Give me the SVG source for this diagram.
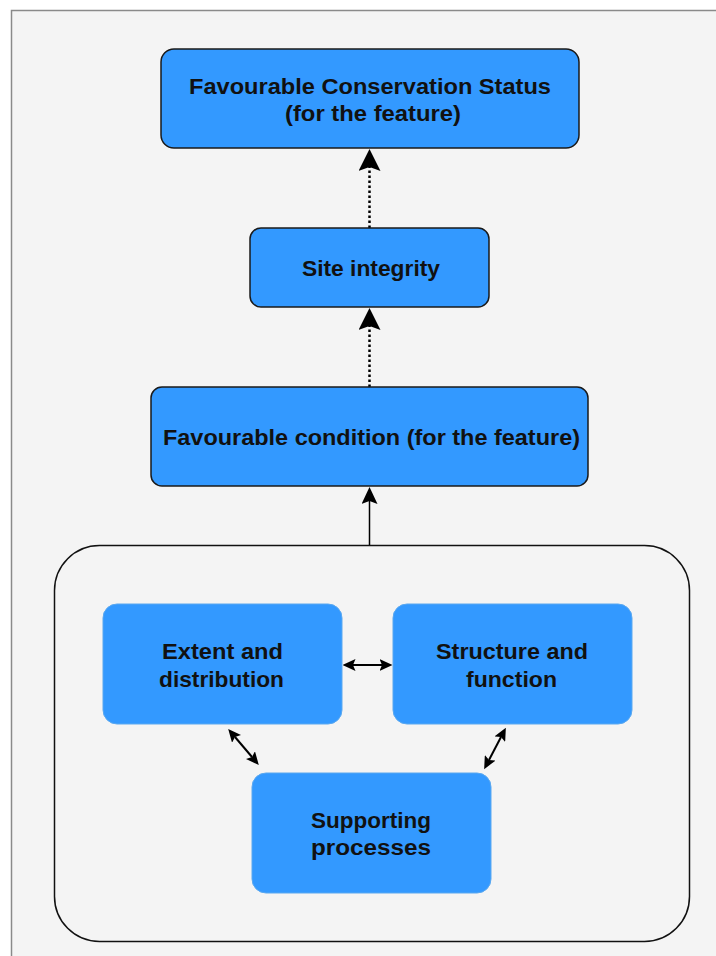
<svg xmlns="http://www.w3.org/2000/svg" width="716" height="956" viewBox="0 0 716 956">
<defs>
<style>
.node{fill:#3399ff;stroke:#1a1a1a;stroke-width:1.5}
.soft{fill:#3399ff;stroke:#5aa8f0;stroke-width:1}
.t{font-family:"Liberation Sans",Arial,sans-serif;font-weight:bold;font-size:22px;fill:#111;text-anchor:middle}
.dot{stroke:#000;stroke-width:2.5;stroke-dasharray:2.5 2.5;fill:none}
.sol{stroke:#000;stroke-width:1.5;fill:none}
.sm{stroke:#000;stroke-width:2;fill:none}
</style>
<marker id="big" viewBox="0 0 22 22" refX="4" refY="11" markerWidth="22" markerHeight="22" markerUnits="userSpaceOnUse" orient="auto">
<path d="M0,0 L22,11 L0,22 L4,11 z" fill="#000"/>
</marker>
<marker id="mid" viewBox="0 0 17 16" refX="3" refY="8" markerWidth="17" markerHeight="16" markerUnits="userSpaceOnUse" orient="auto">
<path d="M0,0 L17,8 L0,16 L3,8 z" fill="#000"/>
</marker>
<marker id="small" viewBox="0 0 13 12" refX="2.5" refY="6" markerWidth="13" markerHeight="12" markerUnits="userSpaceOnUse" orient="auto-start-reverse">
<path d="M0,0 L13,6 L0,12 L2.5,6 z" fill="#000"/>
</marker>
</defs>
<rect x="0" y="0" width="716" height="956" fill="#ffffff"/>
<rect id="frame" x="11.5" y="10.5" width="720" height="960" fill="#f4f4f4" stroke="#8a8a8a" stroke-width="1.5"/>
<g id="container">
<rect x="54.5" y="545.5" width="635" height="396" rx="45" ry="45" fill="#f4f4f4" stroke="#111" stroke-width="1.5"/>
</g>
<g id="connectors">
<line class="dot" x1="369.5" y1="228" x2="369.5" y2="167" marker-end="url(#big)"/>
<line class="dot" x1="369.5" y1="387" x2="369.5" y2="326" marker-end="url(#big)"/>
<line class="sol" x1="369.5" y1="545" x2="369.5" y2="501" marker-end="url(#mid)"/>
<line class="sm" x1="353" y1="665" x2="382" y2="665" marker-start="url(#small)" marker-end="url(#small)"/>
<line class="sm" x1="235" y1="737" x2="252" y2="757" marker-start="url(#small)" marker-end="url(#small)"/>
<line class="sm" x1="501" y1="737" x2="489" y2="760" marker-start="url(#small)" marker-end="url(#small)"/>
</g>
<g id="fcs">
<rect class="node" x="161" y="49" width="418" height="99" rx="13"/>
<text class="t" x="370" y="94" textLength="362" lengthAdjust="spacingAndGlyphs">Favourable Conservation Status</text>
<text class="t" x="373" y="121" textLength="176" lengthAdjust="spacingAndGlyphs">(for the feature)</text>
</g>
<g id="site">
<rect class="node" x="250" y="228" width="239" height="79" rx="11"/>
<text class="t" x="371" y="276" textLength="138" lengthAdjust="spacingAndGlyphs">Site integrity</text>
</g>
<g id="fc">
<rect class="node" x="151" y="387" width="437" height="99" rx="11"/>
<text class="t" x="371.5" y="445" textLength="417" lengthAdjust="spacingAndGlyphs">Favourable condition (for the feature)</text>
</g>
<g id="extent">
<rect class="soft" x="103" y="604" width="239" height="120" rx="14"/>
<text class="t" x="222.5" y="659" textLength="121" lengthAdjust="spacingAndGlyphs">Extent and</text>
<text class="t" x="221.5" y="687" textLength="125" lengthAdjust="spacingAndGlyphs">distribution</text>
</g>
<g id="structure">
<rect class="soft" x="393" y="604" width="239" height="120" rx="14"/>
<text class="t" x="512" y="659" textLength="152" lengthAdjust="spacingAndGlyphs">Structure and</text>
<text class="t" x="511.5" y="687" textLength="91" lengthAdjust="spacingAndGlyphs">function</text>
</g>
<g id="supporting">
<rect class="soft" x="252" y="773" width="239" height="120" rx="14"/>
<text class="t" x="371" y="828" textLength="120" lengthAdjust="spacingAndGlyphs">Supporting</text>
<text class="t" x="371" y="855" textLength="120" lengthAdjust="spacingAndGlyphs">processes</text>
</g>
</svg>
